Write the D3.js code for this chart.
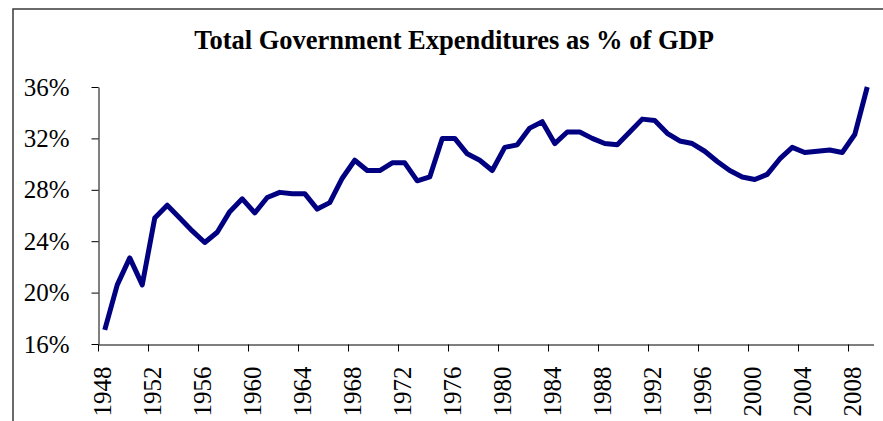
<!DOCTYPE html>
<html>
<head>
<meta charset="utf-8">
<script src="https://cdn.jsdelivr.net/npm/d3@7"></script>
<style>
  body { margin: 0; background: #fff; }
  text { font-family: "Liberation Serif", "Times New Roman", serif; }
</style>
</head>
<body>
<div id="vis"></div>
<script>
// data: total government expenditures, % of GDP
var years = d3.range(1948, 2010);
var spending = [
    17.1, 20.6, 22.7, 20.6, 25.8, 26.8, 25.8, 24.8, 23.9, 24.7,
    26.3, 27.3, 26.2, 27.4, 27.8, 27.7, 27.7, 26.5, 27.0, 28.9,
    30.3, 29.5, 29.5, 30.1, 30.1, 28.7, 29.0, 32.0, 32.0, 30.8,
    30.3, 29.5, 31.3, 31.5, 32.8, 33.3, 31.6, 32.5, 32.5, 32.0,
    31.6, 31.5, 32.5, 33.5, 33.4, 32.4, 31.8, 31.6, 31.0, 30.2,
    29.5, 29.0, 28.8, 29.2, 30.4, 31.3, 30.9, 31.0, 31.1, 30.9,
    32.3, 36.0
];
var yTicks = [16, 20, 24, 28, 32, 36];
var xTickYears = years.filter((y) => (y - 1948) % 4 === 0);
var title = 'Total Government Expenditures as % of GDP';

var width = 883;
var height = 421;

var svg = d3.select('#vis')
    .append('svg')
    .attr('width', width)
    .attr('height', height);

// outer chart frame (runs off the right and bottom of the picture)
svg.append('rect')
    .attr('x', 13)
    .attr('y', 9)
    .attr('width', 900)
    .attr('height', 500)
    .attr('fill', 'none')
    .attr('stroke', '#3a3a3a')
    .attr('stroke-width', 1.5);

var x = d3.scaleBand()
    .domain(years)
    .range([98.5, 873.5])
    .padding(0);

var y = d3.scaleLinear()
    .domain([16, 36])
    .range([344, 87]);

svg.append('text')
    .attr('x', 454)
    .attr('y', 49)
    .attr('text-anchor', 'middle')
    .attr('font-weight', 'bold')
    .attr('font-size', '26.5px')
    .attr('fill', '#000')
    .text(title);

// y axis
var yAxis = svg.append('g')
    .attr('transform', 'translate(98.5,0)')
    .call(d3.axisLeft(y)
        .tickValues(yTicks)
        .tickSize(7)
        .tickSizeOuter(0)
        .tickPadding(22)
        .tickFormat((d) => d + '%'));
yAxis.selectAll('text')
    .attr('font-size', '25px')
    .attr('fill', '#000')
    .style('font-family', '"Liberation Serif", serif');

// x axis, ticks on category boundaries, labels on the category centre
var xAxis = svg.append('g')
    .attr('transform', 'translate(0,344.5)')
    .call(d3.axisBottom(x)
        .tickValues(xTickYears)
        .tickSize(7)
        .tickSizeOuter(0));
var half = x.bandwidth() / 2;
xAxis.selectAll('.tick line')
    .attr('x1', -half)
    .attr('x2', -half);
xAxis.selectAll('.tick text')
    .attr('transform', 'rotate(-90)')
    .attr('text-anchor', 'end')
    .attr('x', -22)
    .attr('y', -3)
    .attr('dy', '0.35em')
    .attr('font-size', '25px')
    .attr('fill', '#000')
    .style('font-family', '"Liberation Serif", serif');

svg.selectAll('.domain, .tick line')
    .attr('stroke', '#000');

var line = d3.line()
    .x((d, i) => x(years[i]) + half)
    .y((d) => y(d));

svg.append('path')
    .datum(spending)
    .attr('d', line)
    .attr('fill', 'none')
    .attr('stroke', '#000080')
    .attr('stroke-width', 5)
    .attr('stroke-linejoin', 'round');
</script>
</body>
</html>
